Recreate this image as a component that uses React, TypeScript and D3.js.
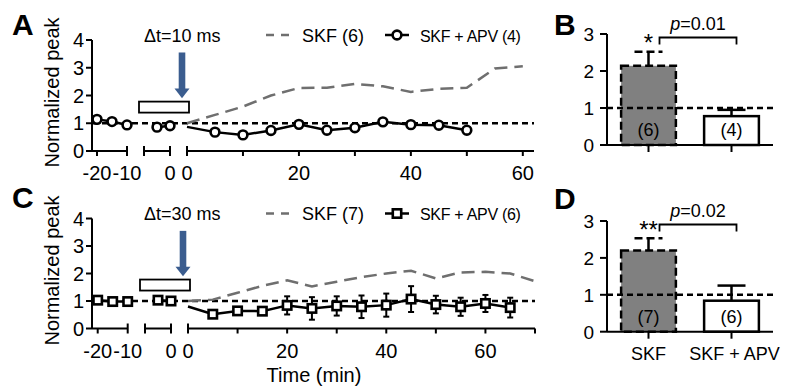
import React from "react";
import * as d3 from "d3";

const FONT = "'Liberation Sans', Arial, Helvetica, sans-serif";
const BLUE = "#3b5d8f";
const SKF_GRAY = "#6f6f6f";

// ---- panel A: dt = 10 ms ----
const preTimesA1 = [-20, -15, -10];
const preValuesA1 = [1.14, 1.06, 0.94];
const preTimesA2 = [-5, 0];
const preValuesA2 = [0.86, 0.91];
const apvTimesA = [0, 5, 10, 15, 20, 25, 30, 35, 40, 45, 50];
const apvValuesA = [0.87, 0.68, 0.58, 0.74, 0.96, 0.75, 0.84, 1.05, 0.95, 0.93, 0.75];
const apvErrA = [0, 0.06, 0.06, 0.07, 0.08, 0.08, 0.12, 0.08, 0.06, 0.06, 0.06];
const skfTimesA = [0, 5, 10, 15, 20, 25, 30, 35, 40, 45, 50, 55, 60];
const skfValuesA = [1.0, 1.3, 1.6, 2.0, 2.27, 2.28, 2.42, 2.33, 2.13, 2.24, 2.28, 2.97, 3.05];

// ---- panel C: dt = 30 ms ----
const preTimesC1 = [-20, -15, -10];
const preValuesC1 = [1.03, 0.98, 0.98];
const preTimesC2 = [-5, 0];
const preValuesC2 = [1.03, 1.0];
const apvTimesC = [0, 5, 10, 15, 20, 25, 30, 35, 40, 45, 50, 55, 60, 65];
const apvValuesC = [0.8, 0.52, 0.64, 0.63, 0.84, 0.73, 0.82, 0.79, 0.85, 1.07, 0.87, 0.79, 0.91, 0.76];
const apvErrC = [0, 0.08, 0.08, 0.08, 0.33, 0.41, 0.35, 0.41, 0.42, 0.47, 0.32, 0.33, 0.31, 0.36];
const skfTimesC = [0, 5, 10, 15, 20, 25, 30, 35, 40, 45, 50, 55, 60, 65, 70];
const skfValuesC = [1.0, 1.05, 1.3, 1.55, 1.75, 1.53, 1.7, 1.87, 2.0, 2.1, 1.82, 2.04, 2.06, 2.0, 1.72];

// ---- bar panels B and D ----
const groups = ["SKF", "SKF + APV"];
const barValuesB = [2.14, 0.78];
const barErrB = [0.38, 0.17];
const barNB = ["(6)", "(4)"];
const barValuesD = [2.2, 0.84];
const barErrD = [0.33, 0.41];
const barND = ["(7)", "(6)"];

const yTicksTime = [0, 1, 2, 3, 4];
const yTicksBar = [0, 1, 2, 3];

function Marker({ x, y, shape }) {
  if (shape === "circle")
    return <circle cx={x} cy={y} r={4.4} fill="#fff" stroke="#000" strokeWidth={2.6} />;
  return <rect x={x - 4.2} y={y - 4.2} width={8.4} height={8.4} fill="#fff" stroke="#000" strokeWidth={2.6} />;
}

function TimePanel(props) {
  const {
    letter, letterY, y0, y4, x1r, x2r, x3r, x3max, dt, skfN, apvN, shape,
    pre1, pre1t, pre2, pre2t, apv, apvT, apvErr, skf, skfT, xTitle,
  } = props;
  const axisX = 92;
  const y = d3.scaleLinear().domain([0, 4]).range([y0, y4]);
  const x1 = d3.scaleLinear().domain([-20, -10]).range(x1r);
  const x2 = d3.scaleLinear().domain([-10, 0]).range(x2r);
  const x3 = d3.scaleLinear().domain([0, x3max]).range(x3r);
  const base = y(0);
  const line = (xs) => d3.line().x((d) => xs(d[0])).y((d) => y(d[1]));
  const zip = (t, v) => t.map((d, i) => [d, v[i]]);
  const seg3Ticks = d3.range(10, x3max + 0.1, 10).filter((t) => t <= x3max);
  const seg3Labels = [0, 20, 40, 60];
  const legendY = y(4) - 5;
  const arrowX = x3(0) - 5;

  const errBar = (xs, t, v, e, key) =>
    e > 0 ? (
      <g key={key} stroke="#000" strokeWidth={2}>
        <line x1={xs(t)} x2={xs(t)} y1={y(v - e)} y2={y(v + e)} />
        <line x1={xs(t) - 3} x2={xs(t) + 3} y1={y(v - e)} y2={y(v - e)} />
        <line x1={xs(t) - 3} x2={xs(t) + 3} y1={y(v + e)} y2={y(v + e)} />
      </g>
    ) : null;

  return (
    <g fontFamily={FONT}>
      <text x={12} y={letterY} fontSize={30} fontWeight="bold">{letter}</text>
      <text transform={`translate(59,${(y(0) + y(4)) / 2 - 3}) rotate(-90)`} textAnchor="middle" fontSize={20}>
        Normalized peak
      </text>

      {/* reference line at 1 */}
      <line x1={axisX} x2={x3r[1]} y1={y(1)} y2={y(1)} stroke="#000" strokeWidth={2.5} strokeDasharray="6,4" />

      {/* SKF mean */}
      <path d={line(x3)(zip(skfT, skf))} fill="none" stroke={SKF_GRAY} strokeWidth={2.5} strokeDasharray="13,7" />

      {/* SKF + APV */}
      <path d={line(x1)(zip(pre1t, pre1))} fill="none" stroke="#000" strokeWidth={2.5} />
      <path d={line(x2)(zip(pre2t, pre2))} fill="none" stroke="#000" strokeWidth={2.5} />
      <path d={line(x3)(zip(apvT, apv))} fill="none" stroke="#000" strokeWidth={2.5} />
      {apvT.map((t, i) => errBar(x3, t, apv[i], apvErr[i], "e" + i))}
      {pre1t.map((t, i) => <Marker key={"p1" + i} x={x1(t)} y={y(pre1[i])} shape={shape} />)}
      {pre2t.map((t, i) => <Marker key={"p2" + i} x={x2(t)} y={y(pre2[i])} shape={shape} />)}
      {apvT.map((t, i) => (i === 0 ? null : <Marker key={"a" + i} x={x3(t)} y={y(apv[i])} shape={shape} />))}

      {/* y axis */}
      <line x1={axisX} x2={axisX} y1={y(0)} y2={y(4)} stroke="#000" strokeWidth={2} />
      {yTicksTime.map((t) => (
        <g key={t}>
          <line x1={axisX - 6} x2={axisX} y1={y(t)} y2={y(t)} stroke="#000" strokeWidth={2} />
          <text x={axisX - 8} y={y(t)} dy="0.36em" textAnchor="end" fontSize={20}>{t}</text>
        </g>
      ))}

      {/* broken x axis */}
      <g stroke="#000" strokeWidth={2}>
        <line x1={axisX} x2={x1(-10)} y1={base} y2={base} />
        <line x1={x1(-20)} x2={x1(-20)} y1={base} y2={base + 5} />
        <line x1={x1(-10)} x2={x1(-10)} y1={base - 5} y2={base + 5} />
        <line x1={x2(-10)} x2={x2(0)} y1={base} y2={base} />
        <line x1={x2(-10)} x2={x2(-10)} y1={base - 5} y2={base + 5} />
        <line x1={x2(0)} x2={x2(0)} y1={base - 5} y2={base + 5} />
        <line x1={x3(0)} x2={x3r[1]} y1={base} y2={base} />
        <line x1={x3(0)} x2={x3(0)} y1={base - 5} y2={base + 5} />
        {seg3Ticks.map((t) => (
          <line key={t} x1={x3(t)} x2={x3(t)} y1={base} y2={base + 5} />
        ))}
      </g>
      <g fontSize={20} textAnchor="middle">
        <text x={x1(-20)} y={base + 29}>-20</text>
        <text x={x1(-10)} y={base + 29}>-10</text>
        <text x={x2(0)} y={base + 29}>0</text>
        {seg3Labels.map((t) => (
          <text key={t} x={x3(t)} y={base + 29}>{t}</text>
        ))}
      </g>
      {xTitle && (
        <text x={314} y={base + 53} textAnchor="middle" fontSize={20}>Time (min)</text>
      )}

      {/* stimulation bar and arrow */}
      <rect x={x2(-10) - 5} y={y(1.78)} width={x3(0) - x2(-10) + 7} height={11} fill="#fff" stroke="#000" strokeWidth={1.8} />
      <rect x={arrowX - 3.3} y={y(3.55)} width={6.6} height={y(2.23) - y(3.55)} fill={BLUE} />
      <path d={`M${arrowX - 7.5},${y(2.25)} L${arrowX + 7.5},${y(2.25)} L${arrowX},${y(1.9)} Z`} fill={BLUE} />

      {/* legend */}
      <text x={144} y={legendY + 6.5} fontSize={18}>Δt={dt} ms</text>
      <line x1={266} x2={290} y1={legendY} y2={legendY} stroke={SKF_GRAY} strokeWidth={2.5} strokeDasharray="8,7" />
      <text x={302} y={legendY + 6.5} fontSize={18}>SKF ({skfN})</text>
      <line x1={385} x2={409} y1={legendY} y2={legendY} stroke="#000" strokeWidth={2.5} />
      <Marker x={397} y={legendY} shape={shape} />
      <text x={420} y={legendY + 6.5} fontSize={16} letterSpacing={-0.3}>
        SKF + APV ({apvN})
      </text>
    </g>
  );
}

function BarPanel({ letter, letterY, y0, y3, values, errs, ns, pText, stars, showLabels }) {
  const axisX = 607;
  const y = d3.scaleLinear().domain([0, 3]).range([y0, y3]);
  const x = d3.scaleBand().domain(groups).range([607, 773]).paddingInner(0.34).paddingOuter(0.17);
  const bw = x.bandwidth();
  const cx = (g) => x(g) + bw / 2;
  const bracketY = y(3) + 3.5;
  const c0 = cx(groups[0]);
  const c1 = cx(groups[1]);

  return (
    <g fontFamily={FONT}>
      <text x={554} y={letterY} fontSize={30} fontWeight="bold">{letter}</text>
      {groups.map((g, i) => (
        <g key={g}>
          <rect
            x={x(g)}
            y={y(values[i])}
            width={bw}
            height={y(0) - y(values[i])}
            fill={i === 0 ? "#808080" : "#fff"}
            stroke="#000"
            strokeWidth={2.5}
            strokeDasharray={i === 0 ? "8,4" : null}
          />
          <line x1={cx(g)} x2={cx(g)} y1={y(values[i])} y2={y(values[i] + errs[i])} stroke="#000" strokeWidth={2.5} />
          <line
            x1={cx(g) - 14}
            x2={cx(g) + 14}
            y1={y(values[i] + errs[i])}
            y2={y(values[i] + errs[i])}
            stroke="#000"
            strokeWidth={2.5}
            strokeDasharray={i === 0 ? "8,4" : null}
          />
          <text x={cx(g)} y={y(0) - 9} textAnchor="middle" fontSize={18}>{ns[i]}</text>
        </g>
      ))}
      <line x1={axisX} x2={775} y1={y(1)} y2={y(1)} stroke="#000" strokeWidth={2.5} strokeDasharray="6,4" />

      {/* axes */}
      <g stroke="#000" strokeWidth={2}>
        <line x1={axisX} x2={axisX} y1={y(0)} y2={y(3)} />
        <line x1={axisX} x2={773} y1={y(0)} y2={y(0)} />
        {yTicksBar.map((t) => (
          <line key={t} x1={axisX - 7} x2={axisX} y1={y(t)} y2={y(t)} />
        ))}
        {groups.map((g) => (
          <line key={g} x1={cx(g)} x2={cx(g)} y1={y(0)} y2={y(0) + 7} />
        ))}
      </g>
      {yTicksBar.map((t) => (
        <text key={t} x={594} y={y(t)} dy="0.36em" textAnchor="end" fontSize={19}>{t}</text>
      ))}
      {showLabels &&
        groups.map((g, i) => (
          <text key={g} x={cx(g) + (i === 1 ? 3 : 0)} y={y(0) + 28} textAnchor="middle" fontSize={18}>{g}</text>
        ))}

      {/* significance */}
      <text x={c0} y={bracketY + 13} textAnchor="middle" fontSize={24}>{stars}</text>
      <path
        d={`M${c0 + 11},${bracketY + 7} V${bracketY} H${c1 + 5} V${bracketY + 7}`}
        fill="none"
        stroke="#000"
        strokeWidth={1.8}
      />
      <text x={(c0 + 11 + c1 + 5) / 2} y={bracketY - 7.5} textAnchor="middle" fontSize={18}>
        <tspan fontStyle="italic">p</tspan>={pText}
      </text>
    </g>
  );
}

export default function App() {
  return (
    <svg
      width={786}
      height={387}
      style={{ position: "absolute", left: 0, top: 0, background: "#fff" }}
    >
      <rect width={786} height={387} fill="#fff" />
      <TimePanel
        letter="A" letterY={35} y0={151} y4={40}
        x1r={[97, 127]} x2r={[144, 170]} x3r={[187, 534]} x3max={62}
        dt={10} skfN={6} apvN={4} shape="circle"
        pre1={preValuesA1} pre1t={preTimesA1} pre2={preValuesA2} pre2t={preTimesA2}
        apv={apvValuesA} apvT={apvTimesA} apvErr={apvErrA}
        skf={skfValuesA} skfT={skfTimesA} xTitle={false}
      />
      <TimePanel
        letter="C" letterY={208} y0={328.5} y4={218.5}
        x1r={[97.7, 127.7]} x2r={[145, 171]} x3r={[188, 535]} x3max={70}
        dt={30} skfN={7} apvN={6} shape="square"
        pre1={preValuesC1} pre1t={preTimesC1} pre2={preValuesC2} pre2t={preTimesC2}
        apv={apvValuesC} apvT={apvTimesC} apvErr={apvErrC}
        skf={skfValuesC} skfT={skfTimesC} xTitle={true}
      />
      <BarPanel
        letter="B" letterY={35} y0={145} y3={34}
        values={barValuesB} errs={barErrB} ns={barNB} pText="0.01" stars="*" showLabels={false}
      />
      <BarPanel
        letter="D" letterY={209} y0={331.7} y3={221}
        values={barValuesD} errs={barErrD} ns={barND} pText="0.02" stars="**" showLabels={true}
      />
    </svg>
  );
}
